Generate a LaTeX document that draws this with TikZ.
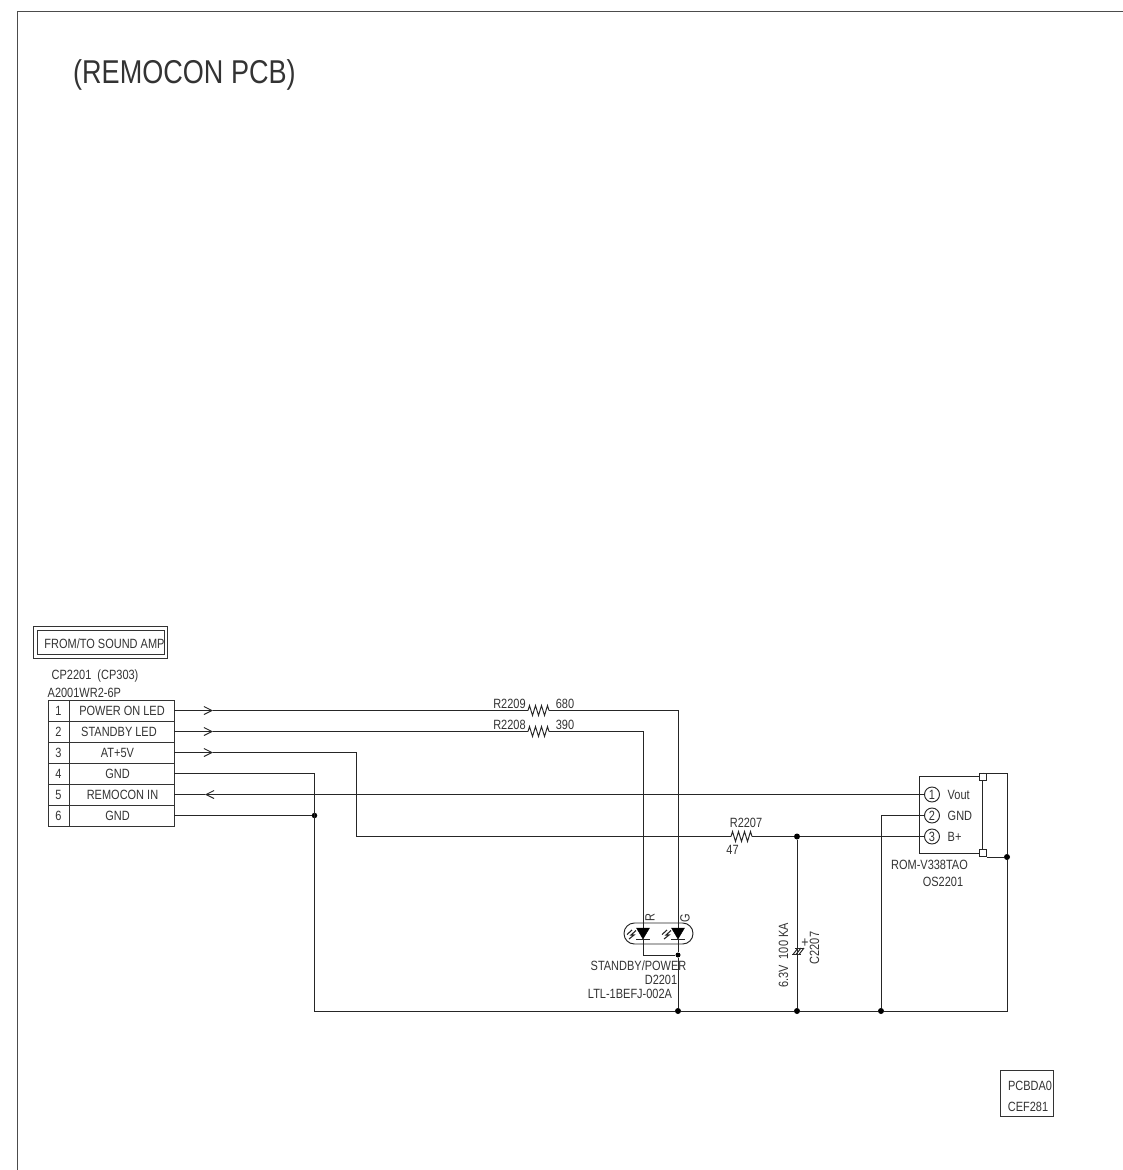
\documentclass[tikz,border=0pt]{standalone}
\usepackage{fontspec}
\setmainfont[FakeStretch=0.82]{Liberation Sans}
\usetikzlibrary{arrows.meta,decorations.pathmorphing}
\tikzset{
  x=1pt,y=-1pt,
  wire/.style={line width=0.95pt,draw=black!85},
  frameline/.style={line width=1pt,draw=black!70},
  cell/.style={draw=black!80,line width=1pt,minimum height=21pt,inner sep=0pt,outer sep=0pt},
  lbl/.style={inner sep=0pt,font=\fontsize{13.4}{13.4}\selectfont,text=black!80},
  barb/.style={wire,-{Straight Barb[length=8pt,width=8pt]}},
  rzig/.style={wire,decorate,decoration={zigzag,amplitude=5pt,segment length=6pt}},
  dot/.style={circle,fill=black,inner sep=0pt,minimum size=6pt},
  pinc/.style={circle,draw=black!85,line width=0.95pt,fill=white,minimum size=15pt,inner sep=0pt,font=\fontsize{13.4}{13.4}\selectfont,text=black!80},
  sq/.style={draw=black!85,line width=0.95pt,fill=white,minimum size=7pt,inner sep=0pt},
  diodebody/.style={fill=black,draw=black}
}
\begin{document}
\begin{tikzpicture}
\useasboundingbox (0,0) rectangle (1123,1170);
% page frame
\coordinate (fa) at (17,1170); \coordinate (fb) at (17,11); \coordinate (fc) at (1123,11);
\draw[frameline] (fa) -- (fb) -- (fc);
\node[lbl,font=\fontsize{33}{33}\selectfont,anchor=west] (title) at (73,75) {(REMOCON PCB)};
% from/to box
\node[draw=black!80,line width=1pt,minimum width=134pt,minimum height=32pt,inner sep=0pt] (fromo) at (100,642) {};
\node[draw=black!80,line width=1pt,minimum width=127pt,minimum height=24pt,inner sep=0pt] (fromi) at (100.5,642) {};
\node[lbl] (fromt) at (104.5,644) {FROM/TO SOUND AMP};
\node[lbl,anchor=west] (cpa) at (51.5,676) {CP2201\ \ (CP303)};
\node[lbl,anchor=west] (cpb) at (47.5,692.5) {A2001WR2-6P};
% connector table
\foreach \n/\y/\t/\cx in {1/710.5/POWER ON LED/122,2/731.5/STANDBY LED/119,3/752.5/AT+5V/117.5,4/773.5/GND/117.5,5/794.5/REMOCON IN/122.5,6/815.5/GND/117.5}{
  \node[cell,minimum width=21pt] (pin\n) at (58.5,\y) {};
  \node[cell,minimum width=105pt] (lab\n) at (121.5,\y) {};
  \node[lbl] (pint\n) at (58.5,\y) {\n};
  \node[lbl] (labt\n) at (\cx,\y) {\t};
}
% barbs
\coordinate (ch1) at (213,710.5); \coordinate (ch2) at (213,731.5); \coordinate (ch3) at (213,752.5); \coordinate (ch5) at (205,794.5);
% nodes on the schematic
\coordinate (r9a) at (528,710.5); \coordinate (r9b) at (549,710.5);
\coordinate (r8a) at (528,731.5); \coordinate (r8b) at (549,731.5);
\coordinate (r7a) at (731,836.5); \coordinate (r7b) at (752,836.5);
\coordinate (ledR) at (643,928); \coordinate (ledG) at (678,928);
\coordinate (ledRb) at (643,939); \coordinate (ledGb) at (678,939);
\coordinate (wa) at (356,752.5); \coordinate (wb) at (356,836.5);
\coordinate (g1) at (314.5,773.5);
\node[dot,minimum size=5.5pt] (d6) at (314.5,815.5) {};
\node[dot] (dgl) at (678,1011) {};
\node[dot,minimum size=5pt] (dled) at (678,955) {};
\node[dot] (dc) at (797,1011) {};
\node[dot] (dtop) at (797,836.5) {};
\node[dot] (dg2) at (881,1011) {};
\node[dot] (dr) at (1007,857) {};
\coordinate (gl) at (314.5,1011); \coordinate (gr) at (1007,1011);
% module
\node[draw=black!85,line width=0.95pt,minimum width=63pt,minimum height=77pt,inner sep=0pt] (mod) at (950.5,815) {};
\node[pinc] (p1) at (932,794.5) {1};
\node[pinc] (p2) at (932,815.5) {2};
\node[pinc] (p3) at (932,836.5) {3};
\node[lbl,anchor=west] (vout) at (947.5,794.5) {Vout};
\node[lbl,anchor=west] (gndm) at (947.5,815.5) {GND};
\node[lbl,anchor=west] (bp) at (947.5,836.5) {B+};
\node[sq] (st) at (983,776.5) {};
\node[sq] (sb) at (983,853) {};
\coordinate (tr) at (1007,773);
\coordinate (g2t) at (881,815.5);
% wires
\draw[barb] (lab1.east) -- (ch1); \draw[wire] (ch1) -- (r9a);
\draw[rzig] (r9a) -- (r9b);
\draw[wire] (r9b) -| (ledG);
\draw[barb] (lab2.east) -- (ch2); \draw[wire] (ch2) -- (r8a);
\draw[rzig] (r8a) -- (r8b);
\draw[wire] (r8b) -| (ledR);
\draw[barb] (lab3.east) -- (ch3); \draw[wire] (ch3) -- (wa) -- (wb) -- (r7a);
\draw[rzig] (r7a) -- (r7b);
\draw[wire] (r7b) -- (dtop) -- (p3);
\draw[wire] (lab4.east) -- (g1) -- (gl) -- (dgl) -- (dc) -- (dg2) -- (gr) -- (dr);
\draw[wire] (lab6.east) -- (d6);
\draw[barb] (p1) -- (ch5); \draw[wire] (ch5) -- (lab5.east);
\draw[wire] (p2) -- (g2t) -- (dg2);
\draw[wire] (st.north) |- (tr) -- (dr);
\draw[wire] (sb.east |- dr) -- (dr);
% LED
\draw[wire,rounded corners=10.4pt] (624,923) rectangle (693,944);
\draw[wire] (ledGb) -- (dled) -- (dgl);
\draw[wire] (ledRb) |- (dled);
\foreach \c in {643,678}{
  \fill[diodebody] (\c-6.5,928) -- (\c+6.5,928) -- (\c,939) -- cycle;
  \draw[wire,line width=1.1pt] (\c-7,939.5) -- (\c+7,939.5);
  \draw[wire,line width=1.1pt] (\c-7,930.5) -- (\c-12,935) -- (\c-9,935) -- (\c-14,939);
  \draw[wire,line width=1.1pt] (\c-11,930) -- (\c-16,934.5);
}
\node[lbl,rotate=90] (rl) at (650,918) {R};
\node[lbl,rotate=90] (gl2) at (685,918) {G};
\node[lbl] (l1) at (638.5,966) {STANDBY/POWER};
\node[lbl] (l2) at (661,980) {D2201};
\node[lbl] (l3) at (630,994) {LTL-1BEFJ-002A};
% capacitor
\draw[wire] (dtop) -- (dc);
\draw[wire,line width=1pt] (795,948) -- (804,948) (792,954.5) -- (801,954.5);
\draw[wire,line width=1pt] (793,954.5) -- (798,948) (796,954.5) -- (801,948) (799,954.5) -- (804,948);
\node[lbl,font=\fontsize{15}{15}\selectfont] (plus) at (805,943.5) {+};
\node[lbl,rotate=90] (cv) at (783.5,955.5) {6.3V\ \ 100 KA};
\node[lbl,rotate=90] (cn) at (814.5,948) {C2207};
% labels
\node[lbl] (t9) at (509.5,704) {R2209};
\node[lbl] (v9) at (565,704) {680};
\node[lbl] (t8) at (509.5,725) {R2208};
\node[lbl] (v8) at (565,725) {390};
\node[lbl] (t7) at (746,822.5) {R2207};
\node[lbl] (v7) at (732.5,850) {47};
\node[lbl] (rom) at (929.5,865) {ROM-V338TAO};
\node[lbl] (os) at (943,882) {OS2201};
% stamp
\node[draw=black!80,line width=1pt,minimum width=53pt,minimum height=46pt,inner sep=0pt] (stamp) at (1026.5,1093) {};
\node[lbl] (sa) at (1030,1086) {PCBDA0};
\node[lbl] (sbb) at (1028,1107) {CEF281};
\end{tikzpicture}
\end{document}
